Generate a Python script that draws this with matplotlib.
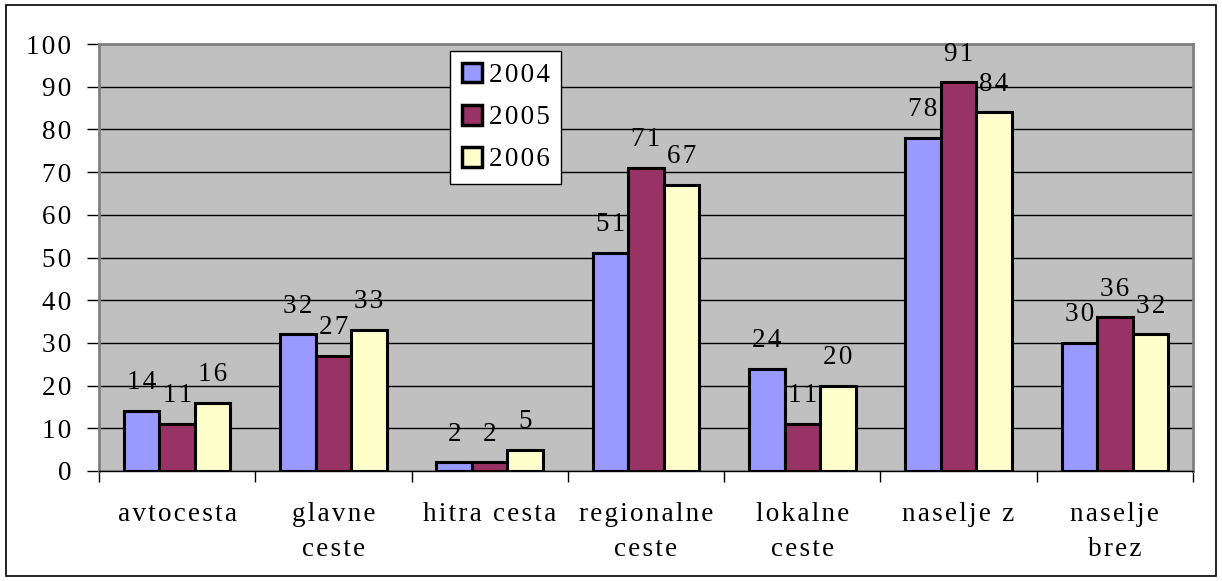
import matplotlib
matplotlib.use("Agg")
import matplotlib.pyplot as plt
import numpy as np
from matplotlib.patches import Rectangle

categories = ["avtocesta", "glavne\nceste", "hitra cesta", "regionalne\nceste",
              "lokalne\nceste", "naselje z", "naselje\nbrez"]
years = ["2004", "2005", "2006"]
v2004 = [14, 32, 2, 51, 24, 78, 30]
v2005 = [11, 27, 2, 71, 11, 91, 36]
v2006 = [16, 33, 5, 67, 20, 84, 32]
series = [v2004, v2005, v2006]
colors = ["#9999FF", "#993366", "#FFFFCC"]

plt.rcParams['font.family'] = ['Liberation Serif', 'DejaVu Serif']
fs = 19.5
HS = '\u200a'


def sp(s):
    return "\n".join(HS.join(line) for line in s.split("\n"))


fig = plt.figure(figsize=(12.22, 5.81), dpi=100)
fig.patches.append(Rectangle((6/1222, 5/581), 1210/1222, 571/581, transform=fig.transFigure,
                             fill=False, edgecolor='black', linewidth=1.2))
ax = fig.add_axes([99/1222, 1 - 471/581, 1094/1222, 427/581])
ax.set_facecolor('#C0C0C0')

n = len(categories)
x = np.arange(n)
bw = 0.227
for i, (vals, c) in enumerate(zip(series, colors)):
    pos = x + (i - 1) * bw
    ax.bar(pos, vals, width=bw, color=c, edgecolor='black', linewidth=2.2,
           label=sp(years[i]), zorder=3)
    for p, v in zip(pos, vals):
        ax.text(p, v + 5.1, sp(str(v)), ha='center', va='baseline', fontsize=fs, zorder=4)

ax.set_xlim(-0.5, n - 0.5)
ax.set_ylim(0, 100)
yt = list(range(0, 101, 10))
ax.set_yticks(yt)
ax.set_yticklabels([sp(str(t)) for t in yt])
ax.tick_params(axis='y', labelsize=fs, length=9, width=1, direction='out', pad=11)
ax.yaxis.grid(True, color='black', linewidth=1, zorder=0)
ax.set_axisbelow(True)

ax.set_xticks(np.arange(-0.5, n, 1.0))
ax.set_xticklabels([])
ax.tick_params(axis='x', length=8, width=1, direction='out')
for xi, lab in zip(x, categories):
    ax.text(xi, -7.2, sp(lab), ha='center', va='top', fontsize=fs, linespacing=1.55,
            transform=ax.transData)

for s in ['top', 'right', 'left']:
    ax.spines[s].set_color('#808080')
    ax.spines[s].set_linewidth(2)
ax.spines['bottom'].set_color('black')
ax.spines['bottom'].set_linewidth(1)

leg = ax.legend(loc='upper left', bbox_to_anchor=(0.321, 0.983), fontsize=fs,
                frameon=True, fancybox=False, edgecolor='black', framealpha=1,
                handlelength=0.75, handleheight=0.75, handletextpad=0.25,
                labelspacing=0.62, borderpad=0.42, borderaxespad=0)
leg.get_frame().set_linewidth(1)
for h in leg.legend_handles:
    h.set_linewidth(2.5)

fig.savefig("out.png", dpi=100, facecolor='white')
